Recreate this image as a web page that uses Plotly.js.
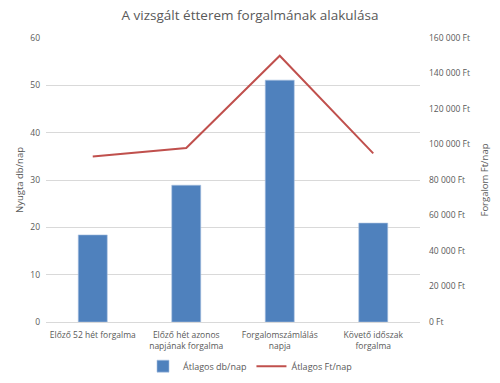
<!DOCTYPE html>
<html>
<head>
<meta charset="utf-8">
<script src="https://cdn.plot.ly/plotly-3.0.1.min.js"></script>
<style>html,body{margin:0;padding:0;background:#fff;}#chart{width:500px;height:383px;}</style>
</head>
<body>
<div id="chart"></div>
<script>
const categories = ["Előző 52 hét forgalma", "Előző hét azonos<br>napjának forgalma", "Forgalomszámlálás<br>napja", "Követő időszak<br>forgalma"];
const receiptsPerDay = [18.4, 28.9, 51.1, 20.9];
const revenuePerDay = [93200, 98000, 150000, 95000];
const leftTicks = [0, 10, 20, 30, 40, 50, 60];
const rightTicks = [0, 20000, 40000, 60000, 80000, 100000, 120000, 140000, 160000];
const rightTickText = ["0 Ft", "20 000 Ft", "40 000 Ft", "60 000 Ft", "80 000 Ft", "100 000 Ft", "120 000 Ft", "140 000 Ft", "160 000 Ft"];

const FONT = "Open Sans, Noto Sans, sans-serif";
const GRAY = "#595959";

const traces = [
  {
    type: "bar", name: "Átlagos db/nap", x: categories, y: receiptsPerDay,
    marker: {color: "#4f81bd", line: {color: "#a9c1e0", width: 0.6}}, yaxis: "y"
  },
  {
    type: "scatter", mode: "lines", name: "Átlagos Ft/nap", x: categories, y: revenuePerDay,
    line: {color: "#c0504d", width: 2}, yaxis: "y2"
  }
];

const layout = {
  width: 500, height: 383,
  margin: {l: 46, r: 80, t: 38, b: 61},
  paper_bgcolor: "#fff", plot_bgcolor: "#fff",
  font: {family: FONT, size: 8.5, color: GRAY},
  title: {text: "A vizsgált étterem forgalmának alakulása", font: {family: FONT, size: 13.5, color: GRAY}, x: 0.5, xanchor: "center", y: 0.96, yanchor: "middle"},
  bargap: 0.69,
  showlegend: true,
  legend: {orientation: "h", xref: "container", x: 0.5, xanchor: "center", yref: "container", y: 0.044, yanchor: "middle", font: {size: 9, color: GRAY}, traceorder: "normal"},
  xaxis: {showgrid: false, showline: true, linecolor: "#d9d9d9", linewidth: 1, ticks: "outside", ticklen: 5, tickcolor: "rgba(0,0,0,0)", tickfont: {size: 8.5, color: GRAY}, fixedrange: true},
  yaxis: {range: [0, 60], tickmode: "array", tickvals: leftTicks, showgrid: true, gridcolor: "#d9d9d9", gridwidth: 1, zeroline: false, ticks: "", ticklabelstandoff: 5, tickfont: {size: 8.5, color: GRAY},
          title: {text: "Nyugta db/nap", font: {size: 9.5, color: GRAY}, standoff: 4}},
  yaxis2: {range: [0, 160000], tickmode: "array", tickvals: rightTicks, ticktext: rightTickText, overlaying: "y", side: "right", showgrid: false, zeroline: false, ticks: "", ticklabelstandoff: 8,
           tickfont: {size: 8.5, color: GRAY},
           title: {text: "Forgalom Ft/nap", font: {size: 9.5, color: GRAY}, standoff: 12}}
};

Plotly.newPlot("chart", traces, layout, {displayModeBar: false, staticPlot: true});
</script>
</body>
</html>
